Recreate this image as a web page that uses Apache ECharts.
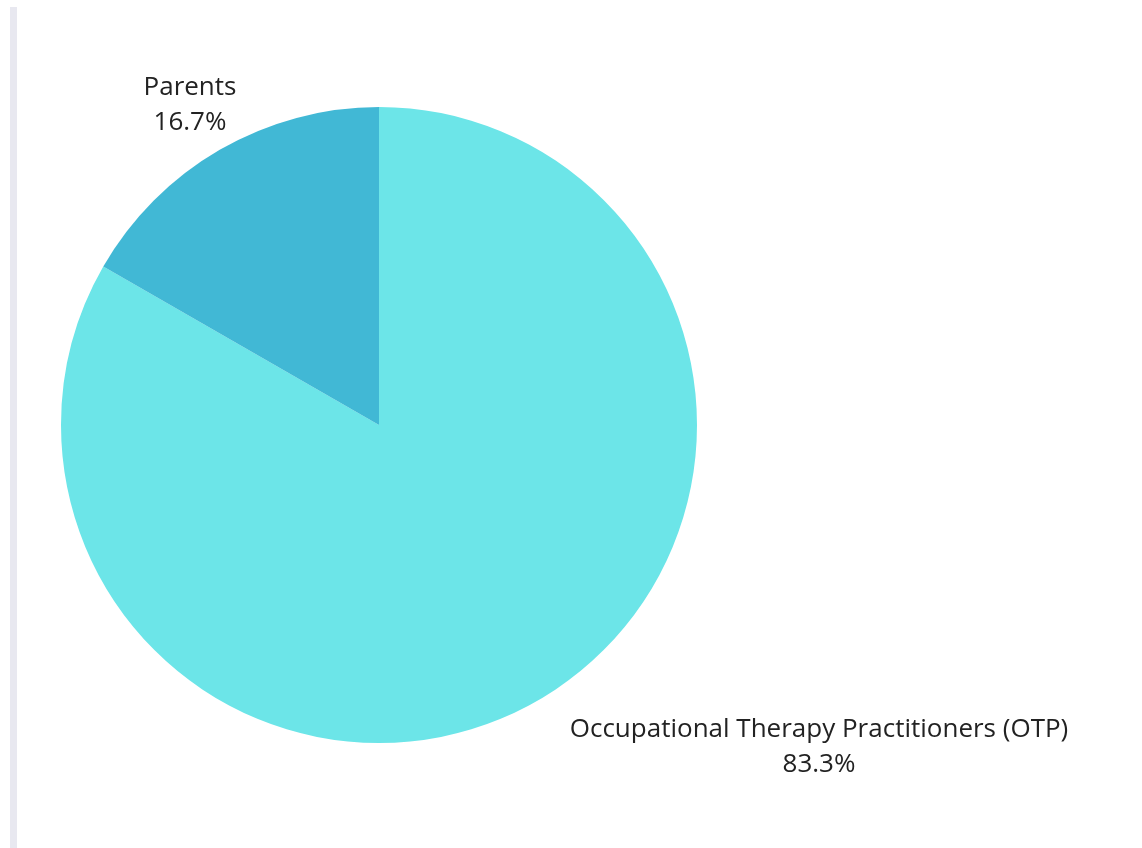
<!DOCTYPE html>
<html>
<head>
<meta charset="utf-8">
<script src="https://cdn.jsdelivr.net/npm/echarts@6/dist/echarts.min.js"></script>
<style>
  html, body { margin: 0; padding: 0; background: #ffffff; }
  #chart { width: 1142px; height: 848px; }
</style>
</head>
<body>
<div id="chart"></div>
<script>
// Respondent groups and their share of responses (%)
const categories = ['Occupational Therapy Practitioners (OTP)', 'Parents'];
const shares = [83.3, 16.7];
const colors = ['#6ce5e8', '#41b8d5'];

// Where each label block is centred
const labelCenters = [[819, 747], [190, 105]];

const chart = echarts.init(document.getElementById('chart'));

chart.setOption({
  backgroundColor: '#ffffff',
  animation: false,
  graphic: [{
    type: 'rect',
    shape: { x: 10, y: 7, width: 7, height: 841 },
    style: { fill: '#e8e8f0' },
    silent: true
  }],
  series: [{
    type: 'pie',
    center: [379, 425],
    radius: [0, 318],
    startAngle: 90,
    clockwise: true,
    avoidLabelOverlap: false,
    itemStyle: { borderWidth: 0 },
    label: {
      show: true,
      position: 'outside',
      formatter: p => p.name + '\n' + p.value.toFixed(1) + '%',
      fontFamily: 'Open Sans',
      fontSize: 26,
      lineHeight: 35,
      color: '#222222',
      align: 'center'
    },
    labelLine: { show: false },
    labelLayout: p => ({
      x: labelCenters[p.dataIndex][0],
      y: labelCenters[p.dataIndex][1],
      align: 'center',
      verticalAlign: 'middle'
    }),
    emphasis: { disabled: true },
    data: categories.map((c, i) => ({
      name: c,
      value: shares[i],
      itemStyle: { color: colors[i] }
    }))
  }]
});
</script>
</body>
</html>
